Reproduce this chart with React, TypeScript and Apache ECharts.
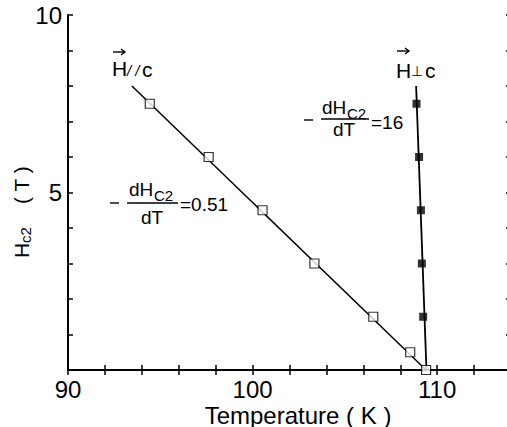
import React, { useEffect, useRef } from "react";
import * as echarts from "echarts";

// H parallel to c (open squares)
const parT = [94.43, 97.62, 100.54, 103.35, 106.54, 108.54, 109.4];
const parH = [7.5, 6.0, 4.5, 3.0, 1.5, 0.5, 0];
const parFitT = [93.46, 109.4];
const parFitH = [8.0, 0];

// H perpendicular to c (filled squares)
const perpT = [108.88, 109.02, 109.12, 109.17, 109.24];
const perpH = [7.5, 6.0, 4.5, 3.0, 1.5];
const perpFitT = [108.86, 109.42];
const perpFitH = [8.0, 0];

const xTickLabels = [90, 100, 110];
const yTickLabels = [5, 10];

const FONT = "'Liberation Sans', Arial, sans-serif";

const zip = (a: number[], b: number[]) => a.map((v, i) => [v, b[i]]);

function txt(text: string, x: number, y: number, size: number, align = "left", extra: any = {}) {
  return {
    type: "text",
    x,
    y,
    silent: true,
    style: {
      text,
      font: `${extra.italic ? "italic " : ""}${size}px ${FONT}`,
      fill: "#000",
      textAlign: align,
      textVerticalAlign: "middle",
      align,
      verticalAlign: "middle",
      lineHeight: extra.lineHeight || size,
    },
  };
}

function seg(x1: number, y1: number, x2: number, y2: number, w = 1.5) {
  return {
    type: "line",
    silent: true,
    shape: { x1, y1, x2, y2 },
    style: { stroke: "#000", lineWidth: w },
  };
}

function arrow(x1: number, x2: number, y: number) {
  return [
    seg(x1, y, x2, y, 1.4),
    {
      type: "polyline",
      silent: true,
      shape: { points: [[x2 - 4, y - 3], [x2, y], [x2 - 4, y + 3]] },
      style: { stroke: "#000", lineWidth: 1.4, fill: null },
    },
  ];
}

export default function App() {
  const ref = useRef<HTMLDivElement>(null);
  useEffect(() => {
    if (!ref.current) return;
    const chart = echarts.init(ref.current, undefined, { renderer: "svg" });
    const axisCommon = {
      type: "value",
      axisLine: { show: true, lineStyle: { color: "#000", width: 2 } },
      axisTick: { show: true, inside: true, length: 5, lineStyle: { color: "#000", width: 1.5 } },
      splitLine: { show: false },
    };
    const option: any = {
      animation: false,
      backgroundColor: "#fff",
      grid: { left: 68, top: 15, width: 443, height: 355 },
      xAxis: [
        {
          ...axisCommon,
          position: "bottom",
          min: 90,
          max: 114,
          interval: 2,
          axisLabel: {
            color: "#000",
            fontSize: 24,
            lineHeight: 20,
            fontFamily: FONT,
            margin: 9,
            formatter: (v: number) => (xTickLabels.includes(v) ? String(v) : ""),
          },
        },
        {
          ...axisCommon,
          position: "top",
          min: 90,
          max: 114,
          interval: 2,
          axisLabel: { show: false },
        },
      ],
      yAxis: [
        {
          ...axisCommon,
          position: "left",
          min: 0,
          max: 10,
          interval: 1,
          axisLabel: {
            color: "#000",
            fontSize: 24,
            fontFamily: FONT,
            margin: 6,
            formatter: (v: number) => (yTickLabels.includes(v) ? String(v) : ""),
          },
        },
        {
          ...axisCommon,
          position: "right",
          min: 0,
          max: 10,
          interval: 1,
          axisLabel: { show: false },
        },
      ],
      series: [
        {
          type: "line",
          data: zip(parFitT, parFitH),
          symbol: "none",
          lineStyle: { color: "#000", width: 1.5 },
          z: 2,
        },
        {
          type: "line",
          data: zip(perpFitT, perpFitH),
          symbol: "none",
          lineStyle: { color: "#000", width: 1.8 },
          z: 2,
        },
        {
          type: "scatter",
          data: zip(parT, parH),
          symbol: "rect",
          symbolSize: 9,
          itemStyle: { color: "#fff", borderColor: "#000", borderWidth: 1.2 },
          z: 3,
        },
        {
          type: "scatter",
          data: zip(perpT, perpH),
          symbol: "rect",
          symbolSize: 8,
          itemStyle: { color: "#000" },
          z: 3,
        },
      ],
      graphic: [
        // H // c label
        ...arrow(113, 125, 52),
        txt("H", 112, 68, 21),
        txt("/ /", 127, 70, 15, "left", { italic: true }),
        txt("c", 142, 69, 21),
        // H ⊥ c label
        ...arrow(397, 409, 51),
        txt("H", 396, 70, 21),
        txt("⊥", 411, 71, 14),
        txt("c", 425, 70, 21),
        // slope annotation 0.51
        seg(110, 203, 119, 203, 1.4),
        txt("dH", 129, 189, 19),
        txt("C2", 154, 195, 15),
        seg(127, 203, 178, 203, 1.4),
        txt("dT", 152, 217, 19, "center"),
        txt("=0.51", 180, 204, 19),
        // slope annotation 16
        seg(304, 120, 313, 120, 1.4),
        txt("dH", 322, 107, 19),
        txt("C2", 347, 113, 15),
        seg(321, 119, 369, 119, 1.4),
        txt("dT", 344, 129, 19, "center"),
        txt("=16", 371, 122, 19),
        // x axis title
        txt("Temperature ( K )", 298, 415, 24, "center", { lineHeight: 20 }),
        // y axis title (rotated)
        {
          type: "group",
          x: 21,
          y: 258,
          rotation: Math.PI / 2,
          silent: true,
          children: [
            txt("H", 0, 0, 21),
            txt("c2", 15, 4, 15),
            txt("( T )", 54, 0, 21),
          ],
        },
      ],
    };
    chart.setOption(option);
    return () => chart.dispose();
  }, []);
  return (
    <div
      ref={ref}
      style={{ position: "fixed", left: 0, top: 0, width: 520, height: 427, background: "#fff" }}
    />
  );
}
